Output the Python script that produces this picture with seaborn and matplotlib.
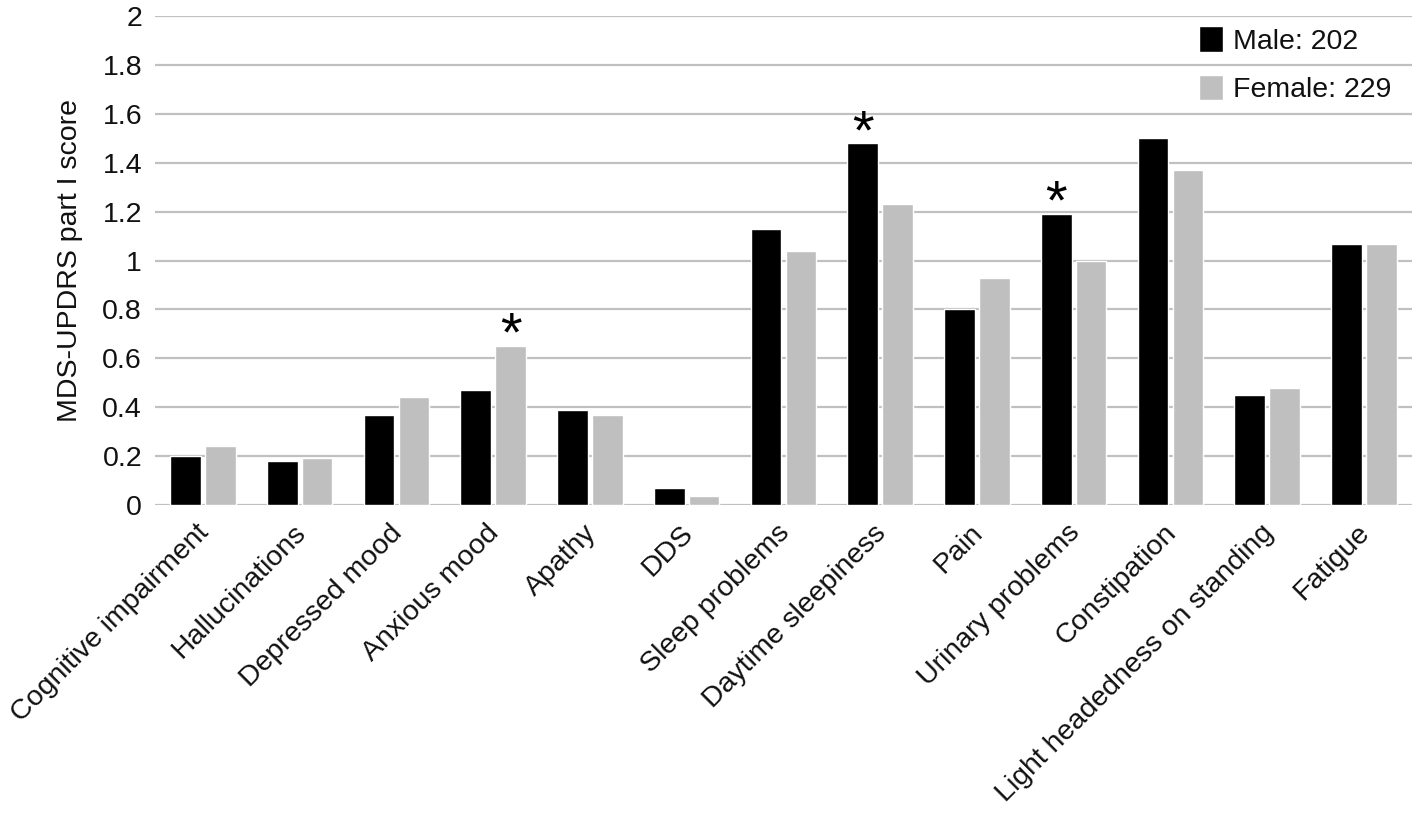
import matplotlib
matplotlib.use("Agg")
import matplotlib.pyplot as plt
import matplotlib.transforms as mtransforms
import seaborn as sns
import pandas as pd

categories = ["Cognitive impairment", "Hallucinations", "Depressed mood", "Anxious mood",
              "Apathy", "DDS", "Sleep problems", "Daytime sleepiness", "Pain",
              "Urinary problems", "Constipation", "Light headedness on standing", "Fatigue"]
male = [0.20, 0.18, 0.37, 0.47, 0.39, 0.07, 1.13, 1.48, 0.80, 1.19, 1.50, 0.45, 1.07]
female = [0.24, 0.19, 0.44, 0.65, 0.37, 0.035, 1.04, 1.23, 0.93, 1.00, 1.37, 0.48, 1.07]
series = ["Male: 202", "Female: 229"]
# significance markers: (category, series)
stars = [("Anxious mood", "Female: 229"), ("Daytime sleepiness", "Male: 202"),
         ("Urinary problems", "Male: 202")]
yticks = [0, 0.2, 0.4, 0.6, 0.8, 1, 1.2, 1.4, 1.6, 1.8, 2]
ytick_labels = ["0", "0.2", "0.4", "0.6", "0.8", "1", "1.2", "1.4", "1.6", "1.8", "2"]

df = pd.DataFrame({
    "category": categories * 2,
    "score": male + female,
    "sex": [series[0]] * len(categories) + [series[1]] * len(categories),
})

sns.set_theme(style="white")
plt.rcParams["font.family"] = ["Liberation Sans", "DejaVu Sans"]

fig = plt.figure(figsize=(14.18, 8.17), dpi=100)
ax = fig.add_axes([0.109, 0.382, 0.887, 0.598])

sns.barplot(data=df, x="category", y="score", hue="sex", order=categories,
            hue_order=series, palette=["#000000", "#bfbfbf"], width=0.72, gap=0.12,
            saturation=1, ax=ax, errorbar=None)

ax.set_ylim(0, 2)
ax.set_xlim(-0.5, len(categories) - 0.5)
ax.set_yticks(yticks)
ax.set_yticklabels(ytick_labels, fontsize=20.5, color="#111111")
ax.yaxis.grid(True, color="#c0c0c0", linewidth=1.6)
ax.set_axisbelow(True)
for s in ax.spines.values():
    s.set_visible(False)
ax.tick_params(axis="y", length=0, pad=9)
ax.tick_params(axis="x", length=0, pad=10)
ax.set_xlabel("")
ax.set_ylabel("MDS-UPDRS part I score", fontsize=20.5, color="#111111", labelpad=14)
ax.set_xticks(range(len(categories)))
ax.set_xticklabels(categories, rotation=45, ha="right", rotation_mode="anchor",
                   fontsize=20.5, color="#111111")
shift = mtransforms.ScaledTranslation(-7 / 100, -1 / 100, fig.dpi_scale_trans)
for lbl in ax.get_xticklabels():
    lbl.set_transform(lbl.get_transform() + shift)

# asterisks above significant bars
for cat, ser in stars:
    cont = ax.containers[series.index(ser)]
    bar = cont.patches[categories.index(cat)]
    ax.annotate("*", (bar.get_x() + bar.get_width() / 2, bar.get_height()),
                xytext=(0, -12), textcoords="offset points", ha="center", va="bottom",
                fontsize=40, color="#000000")

leg = ax.legend(loc="upper right", bbox_to_anchor=(0.997, 1.015), frameon=False,
                fontsize=20.5, handlelength=0.85, handleheight=1.0, handletextpad=0.35,
                labelspacing=0.7, borderaxespad=0.2)
for t in leg.get_texts():
    t.set_color("#111111")

fig.savefig("out.png", dpi=100)
